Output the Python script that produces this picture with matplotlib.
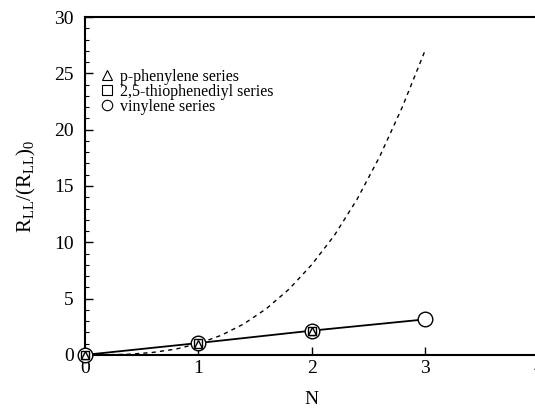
import matplotlib

matplotlib.use("Agg")
import matplotlib.pyplot as plt
from matplotlib.ticker import MultipleLocator

plt.rcParams["font.family"] = ["Liberation Serif", "DejaVu Serif"]
plt.rcParams["mathtext.fontset"] = "custom"
plt.rcParams["mathtext.rm"] = "Liberation Serif"

# measured points
n_phenylene = [0, 1, 2]
r_phenylene = [0.0, 1.0, 2.1]
n_thiophene = [0, 1, 2]
r_thiophene = [0.0, 1.05, 2.15]
n_vinylene = [0, 1, 2, 3]
r_vinylene = [0.0, 1.05, 2.15, 3.15]

# dashed curve
n_curve = [0, 0.2, 0.4, 0.6, 0.8, 1.0, 1.2, 1.4, 1.6, 1.8, 2.0, 2.2, 2.4, 2.6, 2.8, 3.0]
r_curve = [0.0, 0.01, 0.06, 0.22, 0.51, 1.0, 1.73, 2.74, 4.1, 5.83, 8.0, 10.6, 13.8, 17.6, 22.0, 27.0]

fig = plt.figure(figsize=(5.35, 4.17), dpi=100)
ax = fig.add_axes([0.159, 0.149, 0.847, 0.81])

ax.plot(n_curve, r_curve, ls=(0, (3, 3)), color="black", lw=1.0)
ax.plot(n_vinylene, r_vinylene, color="black", lw=1.3, clip_on=False)
ax.plot(n_vinylene, r_vinylene, "o", ms=10.5, mfc="white", mec="black", mew=1.0, ls="none",
        label="vinylene series", clip_on=False, zorder=3)
ax.plot(n_thiophene, r_thiophene, "s", ms=6, mfc="white", mec="black", mew=1.0, ls="none",
        label="2,5-thiophenediyl series", clip_on=False, zorder=4)
ax.plot(n_phenylene, r_phenylene, "^", ms=6, mfc="white", mec="black", mew=1.0, ls="none",
        label="p-phenylene series", clip_on=False, zorder=5)

handles, labels = ax.get_legend_handles_labels()
order = [2, 1, 0]
leg = ax.legend([handles[i] for i in order], [labels[i] for i in order],
                loc="upper left", bbox_to_anchor=(0.0, 0.89), frameon=False,
                fontsize=11.5, handletextpad=0.3, labelspacing=-0.05, handlelength=1.0)
for h in leg.legend_handles:
    h.set_markersize(7.5)
    h.set_markeredgewidth(0.8)

ax.set_xlim(0, 4)
ax.set_ylim(0, 30)
ax.xaxis.set_major_locator(MultipleLocator(1))
ax.yaxis.set_major_locator(MultipleLocator(5))
ax.yaxis.set_minor_locator(MultipleLocator(1))
ax.tick_params(axis="both", which="both", direction="in", top=False, right=False, labelsize=14)
ax.tick_params(axis="both", which="major", length=6, width=1)
ax.tick_params(axis="y", which="minor", length=3, width=0.8)
ax.tick_params(axis="x", pad=4)
ax.tick_params(axis="y", pad=8)
for side in ("left", "bottom", "top"):
    ax.spines[side].set_linewidth(1.5)
ax.spines["right"].set_visible(False)

ax.set_xlabel("N", fontsize=14, labelpad=10)
ax.set_ylabel(r"$\mathrm{R_{LL}/(R_{LL})_0}$", fontsize=15, labelpad=12)

fig.savefig("out.png", dpi=100)
